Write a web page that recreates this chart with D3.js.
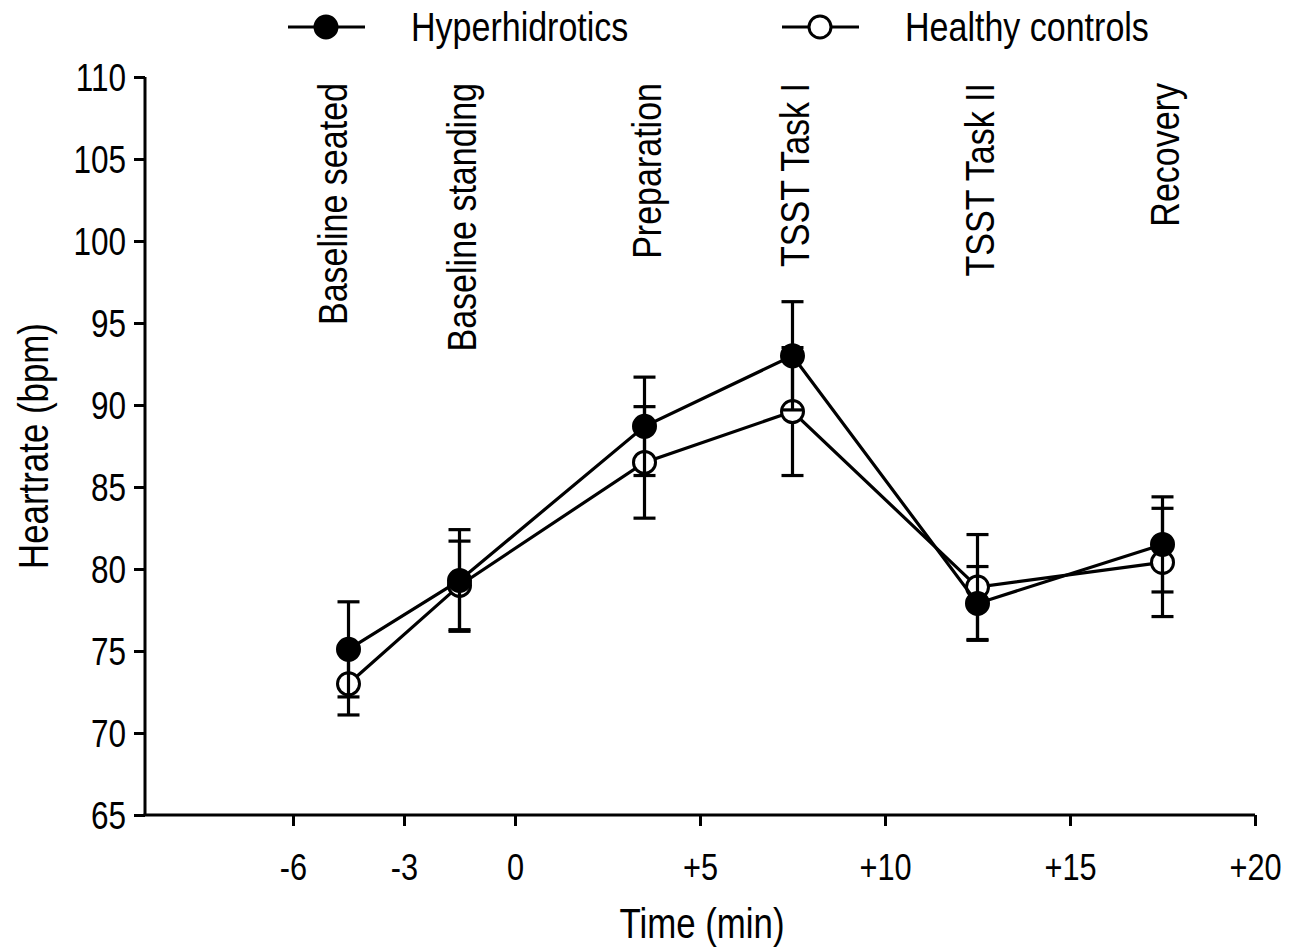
<!DOCTYPE html>
<html>
<head>
<meta charset="utf-8">
<script src="https://cdn.jsdelivr.net/npm/d3@7"></script>
<style>
  body { margin: 0; background: #fff; }
  text { font-family: "Liberation Sans", Arial, sans-serif; fill: #000; }
</style>
</head>
<body>
<div id="chart"></div>
<script>
// time points (min) and phase labels
const times = [-4.5, -1.5, 3.5, 7.5, 12.5, 17.5];
const phases = ['Baseline seated', 'Baseline standing', 'Preparation', 'TSST Task I', 'TSST Task II', 'Recovery'];
const phaseLabelTimes = [-4.5, -1, 4, 8, 13, 18];

// heart rate means and SEM
const hyperMean = [75.1, 79.3, 88.7, 93.0, 77.9, 81.5];
const hyperErr  = [2.9, 3.1, 3.0, 3.3, 2.25, 2.9];
const healthyMean = [73.0, 79.0, 86.5, 89.6, 78.9, 80.4];
const healthyErr  = [1.9, 2.7, 3.4, 3.9, 3.2, 3.3];

const xTicks = [-6, -3, 0, 5, 10, 15, 20];
const xTickLabels = ['-6', '-3', '0', '+5', '+10', '+15', '+20'];
const yTicks = [65, 70, 75, 80, 85, 90, 95, 100, 105, 110];

const width = 1303, height = 951;
const margin = {top: 77, right: 48, bottom: 136, left: 145};
// the original type is a narrow sans, squeeze the regular one
const squeeze = 0.83;

const svg = d3.select('#chart').append('svg')
    .attr('width', width)
    .attr('height', height);

// move a text's x/y into a transform and squeeze it horizontally
function condense(sel, extra = '') {
    sel.each(function() {
        const t = d3.select(this);
        const tx = +t.attr('x') || 0, ty = +t.attr('y') || 0;
        const base = t.attr('transform') || '';
        t.attr('x', null).attr('y', null)
         .attr('transform', `${base} translate(${tx},${ty}) ${extra} scale(${squeeze},1)`);
    });
}

const x = d3.scaleLinear().domain([-10, 20]).range([margin.left, width - margin.right]);
const y = d3.scaleLinear().domain([65, 110]).range([height - margin.bottom, margin.top]);

// axes
const xAxis = svg.append('g')
    .attr('transform', `translate(0,${y(65)})`)
    .call(d3.axisBottom(x).tickValues(xTicks)
        .tickFormat((d, i) => xTickLabels[i])
        .tickSize(11).tickPadding(20).tickSizeOuter(0));
const yAxis = svg.append('g')
    .attr('transform', `translate(${x(-10)},0)`)
    .call(d3.axisLeft(y).tickValues(yTicks).tickSize(11).tickPadding(8).tickSizeOuter(0));

[xAxis, yAxis].forEach(g => {
    g.select('.domain').attr('stroke', '#000').attr('stroke-width', 3);
    g.selectAll('.tick line').attr('stroke', '#000').attr('stroke-width', 3);
    g.selectAll('.tick text').attr('font-family', null).attr('fill', '#000');
});
xAxis.selectAll('.tick text').attr('font-size', 37).attr('dy', null).attr('y', 65);
yAxis.selectAll('.tick text').attr('font-size', 38).attr('dy', '0.36em');
condense(xAxis.selectAll('.tick text'));
condense(yAxis.selectAll('.tick text'));
// extend x axis line under y axis
xAxis.select('.domain').attr('d', `M${x(-10) - 1.5},0H${x(20)}`);
yAxis.select('.domain').attr('d', `M0,${y(110)}V${y(65)}`);

// axis titles
svg.append('text')
    .attr('x', x(5) + 2).attr('y', 938)
    .attr('text-anchor', 'middle').attr('font-size', 42)
    .text('Time (min)')
    .call(condense);
svg.append('text')
    .attr('transform', `translate(48,${(y(65) + y(110)) / 2}) rotate(-90)`)
    .attr('text-anchor', 'middle').attr('font-size', 42)
    .text('Heartrate (bpm)')
    .call(condense);

// phase labels
svg.append('g').selectAll('text')
    .data(phases)
    .join('text')
    .attr('transform', (d, i) => `translate(${x(phaseLabelTimes[i])},83) rotate(-90)`)
    .attr('text-anchor', 'end')
    .attr('font-size', 41)
    .attr('dy', -2)
    .text(d => d)
    .call(condense);

const series = [
    {name: 'Healthy controls', mean: healthyMean, err: healthyErr, fill: '#fff'},
    {name: 'Hyperhidrotics', mean: hyperMean, err: hyperErr, fill: '#000'}
];

const line = d3.line().x(d => x(d.t)).y(d => y(d.v));
const cap = 11, r = 11;

series.forEach(s => {
    const pts = times.map((t, i) => ({t, v: s.mean[i], e: s.err[i]}));
    const g = svg.append('g');
    const eb = g.selectAll('g.err').data(pts).join('g').attr('class', 'err');
    eb.append('line')
        .attr('x1', d => x(d.t)).attr('x2', d => x(d.t))
        .attr('y1', d => y(d.v - d.e)).attr('y2', d => y(d.v + d.e));
    eb.append('line')
        .attr('x1', d => x(d.t) - cap).attr('x2', d => x(d.t) + cap)
        .attr('y1', d => y(d.v + d.e)).attr('y2', d => y(d.v + d.e));
    eb.append('line')
        .attr('x1', d => x(d.t) - cap).attr('x2', d => x(d.t) + cap)
        .attr('y1', d => y(d.v - d.e)).attr('y2', d => y(d.v - d.e));
    eb.selectAll('line').attr('stroke', '#000').attr('stroke-width', 3.2);

    g.append('path').datum(pts)
        .attr('d', line)
        .attr('fill', 'none').attr('stroke', '#000').attr('stroke-width', 3.2);

    g.selectAll('circle').data(pts).join('circle')
        .attr('cx', d => x(d.t)).attr('cy', d => y(d.v))
        .attr('r', r)
        .attr('fill', s.fill).attr('stroke', '#000').attr('stroke-width', 3);
});

// legend
const legend = [
    {name: 'Hyperhidrotics', fill: '#000', x0: 288, tx: 411},
    {name: 'Healthy controls', fill: '#fff', x0: 782, tx: 905}
];
const lg = svg.append('g').selectAll('g').data(legend).join('g');
lg.append('line')
    .attr('x1', d => d.x0).attr('x2', d => d.x0 + 77)
    .attr('y1', 27).attr('y2', 27)
    .attr('stroke', '#000').attr('stroke-width', 3.2);
lg.append('circle')
    .attr('cx', d => d.x0 + 38).attr('cy', 27).attr('r', r)
    .attr('fill', d => d.fill).attr('stroke', '#000').attr('stroke-width', 3);
lg.append('text')
    .attr('x', d => d.tx).attr('y', 41)
    .attr('font-size', 41)
    .text(d => d.name)
    .call(condense);
</script>
</body>
</html>
